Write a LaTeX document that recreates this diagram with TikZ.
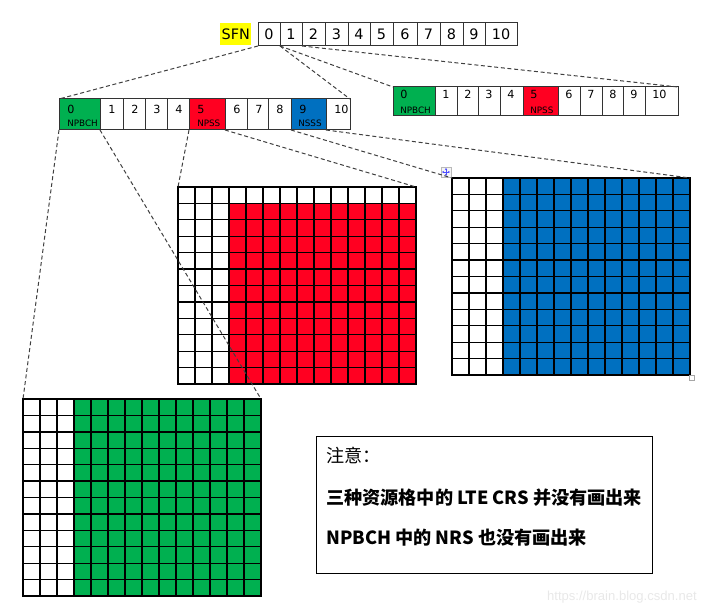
\documentclass[tikz,border=0pt]{standalone}
\usepackage{fontspec}
\newfontfamily\cellfont{DejaVu Sans}
\newfontfamily\notefont{Noto Sans CJK SC}
\newfontfamily\markfont{Liberation Sans}
\usetikzlibrary{arrows.meta}

\definecolor{sfyellow}{HTML}{FFFF00}
\definecolor{sfgreen}{HTML}{00B050}
\definecolor{sfred}{HTML}{FF0021}
\definecolor{sfblue}{HTML}{0070C0}
\definecolor{dashgray}{HTML}{404040}

\tikzset{
 cell/.style={draw=black!80, line width=0.75pt, inner sep=0pt, outer sep=0pt, anchor=north west},
 sfnum/.style={font=\cellfont\fontsize{10.8pt}{12pt}\selectfont},
 sfdigit/.style={font=\cellfont\fontsize{8.4pt}{9pt}\selectfont, inner sep=0pt, anchor=base west},
 sftag/.style={font=\cellfont\fontsize{6.6pt}{7pt}\selectfont, inner sep=0pt, anchor=base west},
 gridline/.style={line width=1pt, black, line cap=rect},
 gridbox/.style={inner sep=0pt, outer sep=0pt, anchor=north west, minimum width=178.5pt, minimum height=147.75pt},
 link/.style={dashgray, line width=0.75pt, dash pattern=on 3pt off 2pt},
 notetext/.style={font=\notefont\fontsize{13.6pt}{15pt}\selectfont, inner sep=0pt, anchor=west},
}

\begin{document}
\begin{tikzpicture}[x=0.75pt,y=-0.75pt]
\useasboundingbox (0,0) rectangle (709,616);

% SFN row
\node[sfnum, fill=sfyellow, inner sep=0pt, anchor=north west, minimum width=23.25pt, minimum height=16.5pt] (sfn) at (220,23) {SFN};
\foreach \i/\a/\b in {0/258/280, 1/280/302, 2/302/325, 3/325/348, 4/348/370, 5/370/393, 6/393/417, 7/417/440, 8/440/463, 9/463/485, 10/485/517}
 \node[cell, sfnum, minimum width={(\b-\a)*0.75pt}, minimum height=17.25pt] (s-\i) at (\a,23) {\i};

% subframes of frame 0
\foreach \i/\a/\b/\f in {0/59/100/sfgreen, 1/100/123/white, 2/123/145/white, 3/145/167/white, 4/167/189/white, 5/189/225/sfred, 6/225/247/white, 7/247/268/white, 8/268/291/white, 9/291/326/sfblue, 10/326/350/white}{
 \node[cell, fill=\f, minimum width={(\b-\a)*0.75pt}, minimum height=23.25pt] (la-\i) at (\a,99) {};
 \node[sfdigit] (la-\i-n) at (\a+8,114) {\i};
}
\node[sftag] (la-tag0) at (67,127) {NPBCH};
\node[sftag] (la-tag5) at (197,127) {NPSS};
\node[sftag] (la-tag9) at (298,127) {NSSS};

% subframes of frame 1
\foreach \i/\a/\b/\f in {0/393/435/sfgreen, 1/435/457/white, 2/457/478/white, 3/478/500/white, 4/500/523/white, 5/523/558/sfred, 6/558/580/white, 7/580/602/white, 8/602/623/white, 9/623/645/white, 10/645/678/white}{
 \node[cell, fill=\f, minimum width={(\b-\a)*0.75pt}, minimum height=21.75pt] (ra-\i) at (\a,87) {};
 \node[sfdigit] (ra-\i-n) at (\a+7,99) {\i};
}
\node[sftag] (ra-tag0) at (400,114) {NPBCH};
\node[sftag] (ra-tag5) at (530,114) {NPSS};

% NPSS grid
\begin{scope}[shift={(178,187)}]
\fill[sfred] (51,16.4167) rectangle (238,197);
\foreach \gx in {0,...,14} \draw[gridline] (\gx*17,0) -- (\gx*17,197);
\foreach \gy in {0,...,12} \draw[gridline] (0,\gy*16.4167) -- (238,\gy*16.4167);
\node[gridbox] (npss) at (0,0) {};
\end{scope}

% NSSS grid
\begin{scope}[shift={(452,178)}]
\fill[sfblue] (51,0) rectangle (238,197);
\foreach \gx in {0,...,14} \draw[gridline] (\gx*17,0) -- (\gx*17,197);
\foreach \gy in {0,...,12} \draw[gridline] (0,\gy*16.4167) -- (238,\gy*16.4167);
\node[gridbox] (nsss) at (0,0) {};
\end{scope}

% NPBCH grid
\begin{scope}[shift={(23,399)}]
\fill[sfgreen] (51,0) rectangle (238,197);
\foreach \gx in {0,...,14} \draw[gridline] (\gx*17,0) -- (\gx*17,197);
\foreach \gy in {0,...,12} \draw[gridline] (0,\gy*16.4167) -- (238,\gy*16.4167);
\node[gridbox] (npbch) at (0,0) {};
\end{scope}

% editor handles
\node[draw=gray!55, fill=gray!8, line width=0.6pt, minimum size=7.5pt, inner sep=0pt] (mv) at (446,172) {};
\foreach \d in {(0,-4),(0,4),(-4,0),(4,0)}
 \draw[blue!70, line width=0.5pt, -{Stealth[length=1.6pt,width=1.8pt]}] (mv.center) -- ++\d;
\node[draw=gray!70, line width=0.6pt, minimum size=4pt, inner sep=0pt] (hd) at (692,378) {};

% dashed links
\draw[link] (s-0.south west) -- (la-0.north west);
\draw[link] (s-0.south east) -- (la-10.north east);
\draw[link] (s-1.south west) -- (ra-0.north west);
\draw[link] (s-1.south east) -- (ra-10.north east);
\draw[link] (la-0.south west) -- (npbch.north west);
\draw[link] (la-0.south east) -- (npbch.north east);
\draw[link] (la-5.south west) -- (npss.north west);
\draw[link] (la-5.south east) -- (npss.north east);
\draw[link] (la-9.south west) -- (nsss.north west);
\draw[link] (la-9.south east) -- (nsss.north east);

% note
\node[draw, line width=0.75pt, inner sep=0pt, anchor=north west, minimum width=252pt, minimum height=102.75pt] (note) at (316,436) {};
\node[notetext] (note-a) at (326,455) {注意：};
\node[notetext] (note-b) at (326,498) {\bfseries 三种资源格中的 LTE CRS 并没有画出来};
\node[notetext] (note-c) at (326,538) {\bfseries NPBCH 中的 NRS 也没有画出来};

\node[font=\markfont\fontsize{9.8pt}{11pt}\selectfont, text=black!9, inner sep=0pt, anchor=east] (wm) at (697,597) {https://brain.blog.csdn.net};
\end{tikzpicture}
\end{document}
